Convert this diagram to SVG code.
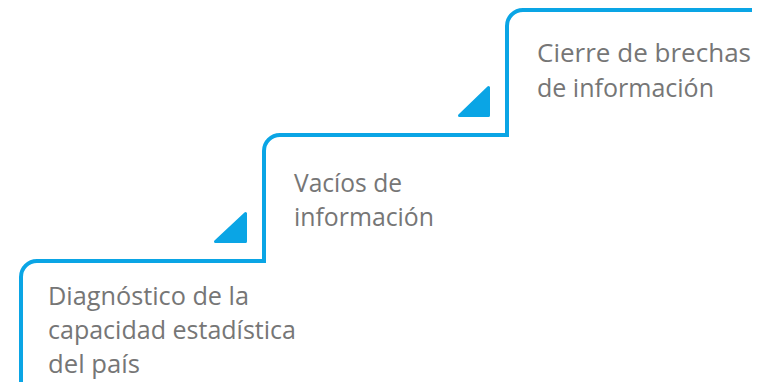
<svg xmlns="http://www.w3.org/2000/svg" width="759" height="382" viewBox="0 0 759 382">
<style>
.step{fill:none;stroke:#0AA5E5;stroke-width:4;stroke-linejoin:miter}
.tri{fill:#0AA5E5;stroke:#0AA5E5;stroke-width:3;stroke-linejoin:round}
.lbl{font-family:"Open Sans","Noto Sans","Liberation Sans",sans-serif;font-size:26px;fill:#767676}
</style>
<rect width="759" height="382" fill="#ffffff"/>
<g id="connectors">
<path class="step" d="M21,382 V277 A16,16 0 0 1 37,261 H264 V151 A16,16 0 0 1 280,135 H507 V26 A16,16 0 0 1 523,10 H752"/>
<path class="tri" d="M245.5,213.5 V241.5 H215.5 Z"/>
<path class="tri" d="M488.5,87.5 V115.5 H459.5 Z"/>
</g>
<g id="step1">
<text class="lbl" x="48" y="305" textLength="201" lengthAdjust="spacingAndGlyphs">Diagnóstico de la</text>
<text class="lbl" x="48" y="339" textLength="248" lengthAdjust="spacingAndGlyphs">capacidad estadística</text>
<text class="lbl" x="48" y="373" textLength="92" lengthAdjust="spacingAndGlyphs">del país</text>
</g>
<g id="step2">
<text class="lbl" x="294" y="192" textLength="108" lengthAdjust="spacingAndGlyphs">Vacíos de</text>
<text class="lbl" x="294" y="226" textLength="140" lengthAdjust="spacingAndGlyphs">información</text>
</g>
<g id="step3">
<text class="lbl" x="537" y="62" textLength="214" lengthAdjust="spacingAndGlyphs">Cierre de brechas</text>
<text class="lbl" x="537" y="97" textLength="177" lengthAdjust="spacingAndGlyphs">de información</text>
</g>
</svg>
